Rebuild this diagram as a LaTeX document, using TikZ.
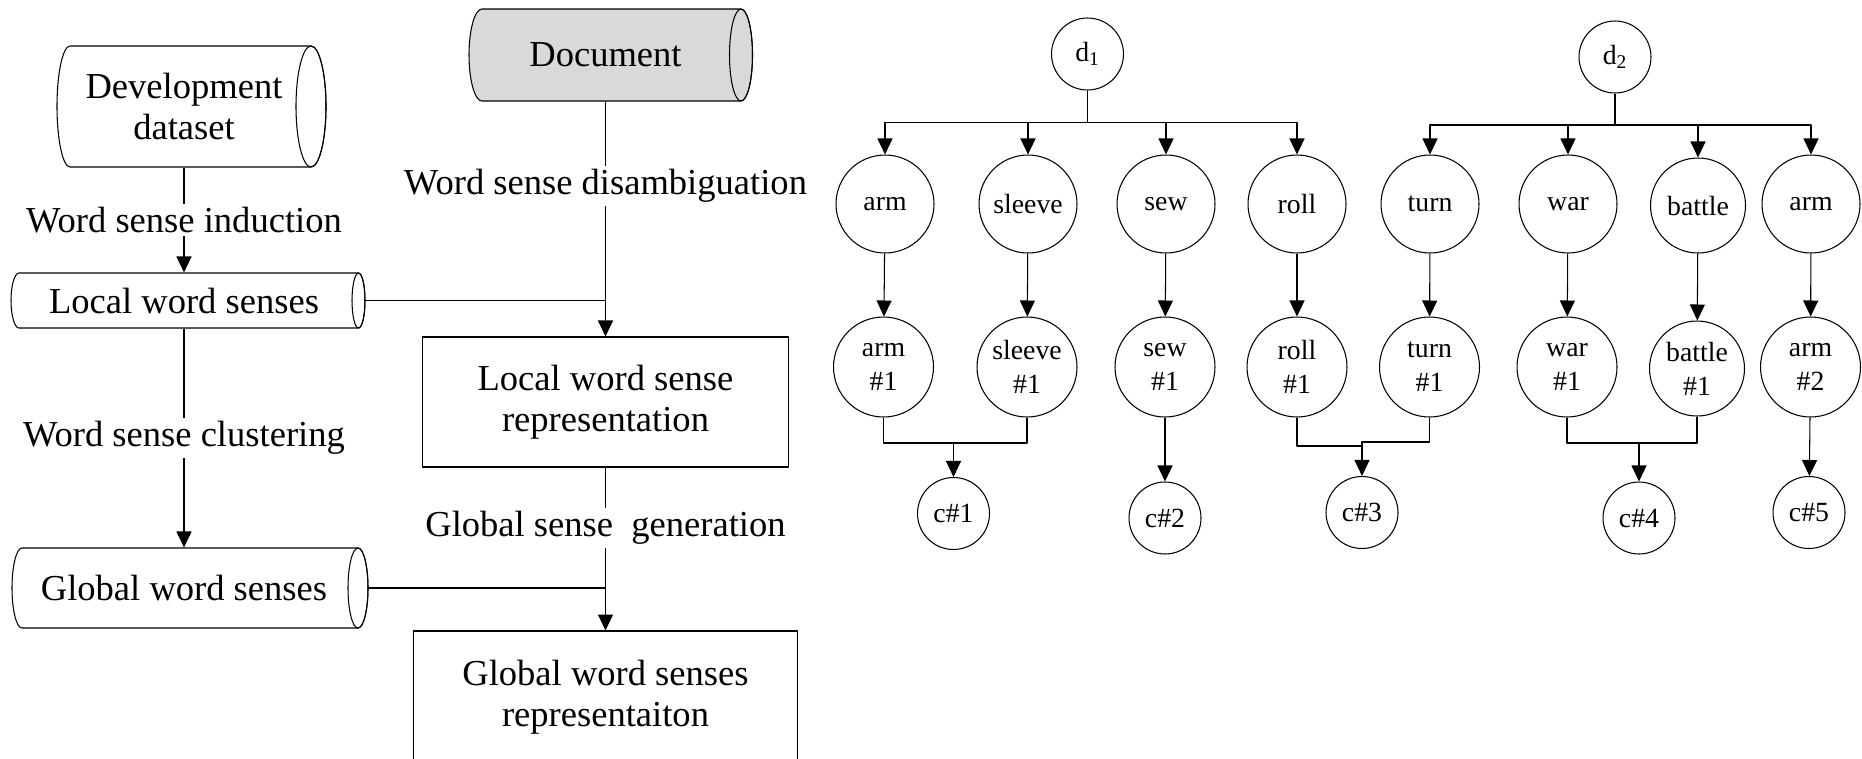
\documentclass[tikz,border=0pt]{standalone}
\usepackage{fontspec}
\setmainfont{Liberation Serif}
\usetikzlibrary{arrows.meta}

\tikzset{
  arr/.style={-{Triangle[length=0.32cm,width=0.3cm]}},
  txt/.style={inner sep=0pt,align=center,font=\fontsize{20.8}{23.3}\selectfont},
  lbl/.style={fill=white,inner sep=2pt,font=\fontsize{20.8}{23.3}\selectfont},
  repbox/.style={draw,inner sep=0pt,align=center,font=\fontsize{20.8}{23.3}\selectfont},
  word/.style={draw,circle,inner sep=0pt,minimum size=1.96cm,align=center,font=\fontsize{15.8}{19.3}\selectfont},
  doc/.style={word,minimum size=1.44cm}
}

\begin{document}
\begin{tikzpicture}[x=0.02cm,y=-0.02cm,line width=0.6pt,line join=round]
	\useasboundingbox (0,0) rectangle (1862,758);
	\clip (0,0) rectangle (1862,758);
	% left side: pipeline
	\draw[fill=white] (70,46) arc[start angle=270,end angle=90,x radius=13,y radius=60.5] -- (311,167) arc[start angle=90,end angle=-90,x radius=15,y radius=60.5] -- cycle;
	\draw (311,106.5) ellipse[x radius=15,y radius=60.5];
	\node[txt,minimum height=2.42cm] (dev) at (184,106.5) {Development\\dataset};
	\draw[fill=gray!30] (482,9) arc[start angle=270,end angle=90,x radius=13,y radius=46] -- (741,101) arc[start angle=90,end angle=-90,x radius=11.5,y radius=46] -- cycle;
	\draw (741,55) ellipse[x radius=11.5,y radius=46];
	\node[txt,minimum height=1.84cm] (docu) at (605.5,55) {Document};
	\draw[fill=white] (19,273) arc[start angle=270,end angle=90,x radius=8,y radius=27.5] -- (358.5,328) arc[start angle=90,end angle=-90,x radius=6.5,y radius=27.5] -- cycle;
	\draw (358.5,300.5) ellipse[x radius=6.5,y radius=27.5];
	\node[txt,minimum height=1.1cm] (lws) at (184,300.5) {Local word senses};
	\coordinate (lwsr) at (365,300.5);
	\draw[fill=white] (22,548) arc[start angle=270,end angle=90,x radius=10,y radius=40] -- (358,628) arc[start angle=90,end angle=-90,x radius=10,y radius=40] -- cycle;
	\draw (358,588) ellipse[x radius=10,y radius=40];
	\node[txt,minimum height=1.6cm] (gws) at (184,588) {Global word senses};
	\coordinate (gwsr) at (368,588);
	\node[repbox,minimum width=7.32cm,minimum height=2.6cm] (lrep) at (605.5,402) {Local word sense\\representation};
	\node[repbox,minimum width=7.68cm,minimum height=2.64cm] (grep) at (605.5,697) {Global word senses\\representaiton};
	\draw[arr] (dev) -- node[lbl]{Word sense induction} (lws);
	\draw[arr] (lws) -- node[lbl]{Word sense clustering} (gws);
	\draw[arr] (docu) -- node[lbl,pos=0.36]{Word sense disambiguation} (lrep);
	\draw (lwsr) -- (lwsr -| lrep.north);
	\draw[arr] (lrep) -- node[lbl,pos=0.37]{Global sense\ \ generation} (grep);
	\draw (gwsr) -- (gwsr -| grep.north);
	% right side: documents, words, senses, clusters
	\node[doc] (d1) at (1087.5,54) {d\textsubscript{1}};
	\node[doc] (d2) at (1615,57) {d\textsubscript{2}};
	\node[word] (arm) at (885,204) {arm};
	\node[word] (sleeve) at (1028,204) {sleeve};
	\node[word] (sew) at (1166,204) {sew};
	\node[word] (roll) at (1297,204) {roll};
	\node[word] (turn) at (1430,204) {turn};
	\node[word] (war) at (1568,204) {war};
	\node[word,minimum size=1.9cm] (battle) at (1698,205.5) {battle};
	\node[word] (armb) at (1811,204) {arm};
	\node[word,minimum size=2cm] (arm1) at (883.5,367) {arm\\\#1};
	\node[word,minimum size=2cm] (sleeve1) at (1027,367) {sleeve\\\#1};
	\node[word,minimum size=2cm] (sew1) at (1165,367) {sew\\\#1};
	\node[word,minimum size=2cm] (roll1) at (1297,367) {roll\\\#1};
	\node[word,minimum size=2cm] (turn1) at (1429.5,367) {turn\\\#1};
	\node[word,minimum size=2cm] (war1) at (1567,367) {war\\\#1};
	\node[word,minimum size=1.9cm] (battle1) at (1697,368.5) {battle\\\#1};
	\node[word,minimum size=2cm] (arm2) at (1810.5,367) {arm\\\#2};
	\node[doc] (c1) at (953.5,513.5) {c\#1};
	\node[doc] (c2) at (1165,518) {c\#2};
	\node[doc] (c3) at (1362,512.5) {c\#3};
	\node[doc] (c4) at (1639,518) {c\#4};
	\node[doc] (c5) at (1809,512.5) {c\#5};
	\coordinate (b1) at (1087.5,122.7);
	\coordinate (b2) at (1615,125);
	\foreach \w in {arm,sleeve,sew,roll}
		\draw[arr] (d1) -- (b1) -| (\w);
	\foreach \w in {turn,war,battle,armb}
		\draw[arr] (d2) -- (b2) -| (\w);
	\foreach \a/\b in {arm/arm1,sleeve/sleeve1,sew/sew1,roll/roll1,turn/turn1,war/war1,battle/battle1,armb/arm2}
		\draw[arr] (\a) -- (\b);
	\coordinate (m1) at (953.5,443);
	\coordinate (m3) at (1362,446);
	\coordinate (m3t) at (1362,442);
	\coordinate (m4) at (1639,443);
	\draw (arm1) |- (m1) -| (sleeve1);
	\draw[arr] (m1) -- (c1);
	\draw[arr] (sew1) -- (c2);
	\draw (roll1) |- (m3);
	\draw (turn1) |- (m3t) -- (m3);
	\draw[arr] (m3) -- (c3);
	\draw (war1) |- (m4) -| (battle1);
	\draw[arr] (m4) -- (c4);
	\draw[arr] (arm2) -- (c5);
\end{tikzpicture}
\end{document}
